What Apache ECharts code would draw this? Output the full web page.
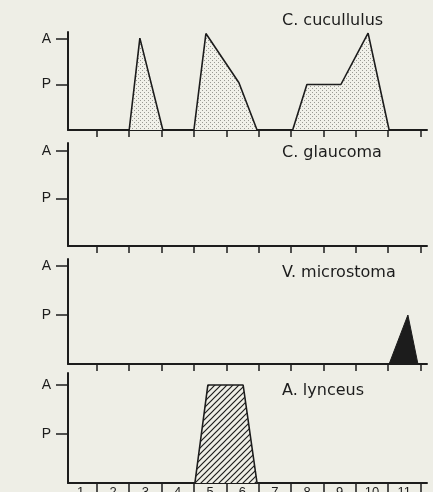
<!DOCTYPE html>
<html>
<head>
<meta charset="utf-8">
<script src="https://cdn.jsdelivr.net/npm/echarts@6/dist/echarts.min.js"></script>
<style>
  html, body { margin: 0; padding: 0; background: #eeeee6; }
  #chart { width: 433px; height: 492px; }
</style>
</head>
<body>
<div id="chart"></div>
<script>
// Seasonal abundance by month (0 = absent, 1 = present "P", 2 = abundant "A")
const months = [1, 2, 3, 4, 5, 6, 7, 8, 9, 10, 11];
const levelLabels = ['', 'P', 'A'];
const speciesNames = ['C. cucullulus', 'C. glaucoma', 'V. microstoma', 'A. lynceus'];

// [month position, abundance level] outlines of each occurrence
const cucullulusPulse1 = [[2.0, 0], [2.33, 2.02], [3.04, 0]];
const cucullulusPulse2 = [[4.0, 0], [4.37, 2.12], [5.39, 1.04], [5.95, 0]];
const cucullulusPulse3 = [[7.05, 0], [7.49, 1.0], [8.54, 1.0], [9.38, 2.13], [10.03, 0]];
const glaucomaPulses = [];
const microstomaPulse = [[10.03, 0], [10.61, 1.0], [10.92, 0]];
const lynceusPulse = [[4.03, 0], [4.43, 2.0], [5.52, 2.0], [5.95, 0]];

const ink = '#1c1c1c';
const paper = '#eeeee6';

// stipple fill
function dotPattern() {
  const c = document.createElement('canvas');
  c.width = 4; c.height = 4;
  const g = c.getContext('2d');
  g.fillStyle = '#f1f1ea';
  g.fillRect(0, 0, 4, 4);
  g.fillStyle = '#9a9a94';
  g.fillRect(0, 0, 1, 1);
  g.fillRect(2, 2, 1, 1);
  return c;
}
// diagonal hatch fill
function hatchPattern() {
  const n = 6;
  const c = document.createElement('canvas');
  c.width = n; c.height = n;
  const g = c.getContext('2d');
  g.fillStyle = paper;
  g.fillRect(0, 0, n, n);
  g.strokeStyle = ink;
  g.lineWidth = 1.2;
  g.beginPath();
  g.moveTo(-1, n + 1); g.lineTo(n + 1, -1);
  g.moveTo(-1, 1); g.lineTo(1, -1);
  g.moveTo(n - 1, n + 1); g.lineTo(n + 1, n - 1);
  g.stroke();
  return c;
}

// panel frames: top of y axis, baseline, pixels per level
const panels = [
  { top: 32, base: 130, unit: 45.5 },
  { top: 143, base: 246, unit: 47.5 },
  { top: 259, base: 364, unit: 49 },
  { top: 373, base: 483, unit: 49 }
];
const titleTops = [13, 145, 265, 383];

const grids = [], xAxes = [], yAxes = [], series = [], graphics = [];
panels.forEach((p, i) => {
  const last = i === panels.length - 1;
  grids.push({
    left: 68, width: 359, top: p.top, height: p.base - p.top,
    containLabel: false, outerBoundsMode: 'none'
  });
  xAxes.push({
    type: 'value', gridIndex: i, min: 0.11, max: 11.2,
    splitLine: { show: false },
    axisLine: { lineStyle: { color: ink, width: 2 } },
    axisTick: { customValues: months, length: last ? 10 : 7, lineStyle: { color: ink, width: 1.5 } },
    axisLabel: {
      show: last,
      customValues: months.map(m => m - 0.5),
      formatter: v => String(Math.round(v + 0.5)),
      color: ink, fontSize: 13, fontFamily: 'Liberation Sans', margin: 3
    }
  });
  yAxes.push({
    type: 'value', gridIndex: i, min: 0, max: (p.base - p.top) / p.unit, interval: 1,
    splitLine: { show: false },
    axisLine: { show: true, lineStyle: { color: ink, width: 2 } },
    axisTick: { show: true, customValues: [1, 2], length: 12, lineStyle: { color: ink, width: 1.5 } },
    axisLabel: {
      customValues: [1, 2],
      formatter: v => levelLabels[Math.round(v)],
      color: ink, fontSize: 14, fontFamily: 'Liberation Sans', margin: 17
    }
  });
  graphics.push({
    type: 'text', left: 282, top: titleTops[i],
    style: { text: speciesNames[i], fill: ink, font: '16px "DejaVu Sans"' }
  });
});

function pulse(data, idx, fill, lineWidth) {
  return {
    type: 'line', xAxisIndex: idx, yAxisIndex: idx, data: data,
    showSymbol: false, silent: true, animation: false,
    lineStyle: { color: ink, width: lineWidth },
    areaStyle: { color: fill, opacity: 1 }
  };
}
const dots = { image: dotPattern(), repeat: 'repeat' };
const hatch = { image: hatchPattern(), repeat: 'repeat' };
series.push(pulse(cucullulusPulse1, 0, dots, 1.6));
series.push(pulse(cucullulusPulse2, 0, dots, 1.6));
series.push(pulse(cucullulusPulse3, 0, dots, 1.6));
series.push(pulse(glaucomaPulses, 1, dots, 1.6));
series.push(pulse(microstomaPulse, 2, ink, 1));
series.push(pulse(lynceusPulse, 3, hatch, 1.6));

const chart = echarts.init(document.getElementById('chart'), null, { renderer: 'canvas' });
chart.setOption({
  backgroundColor: paper,
  animation: false,
  grid: grids,
  xAxis: xAxes,
  yAxis: yAxes,
  series: series,
  graphic: graphics
});
</script>
</body>
</html>
